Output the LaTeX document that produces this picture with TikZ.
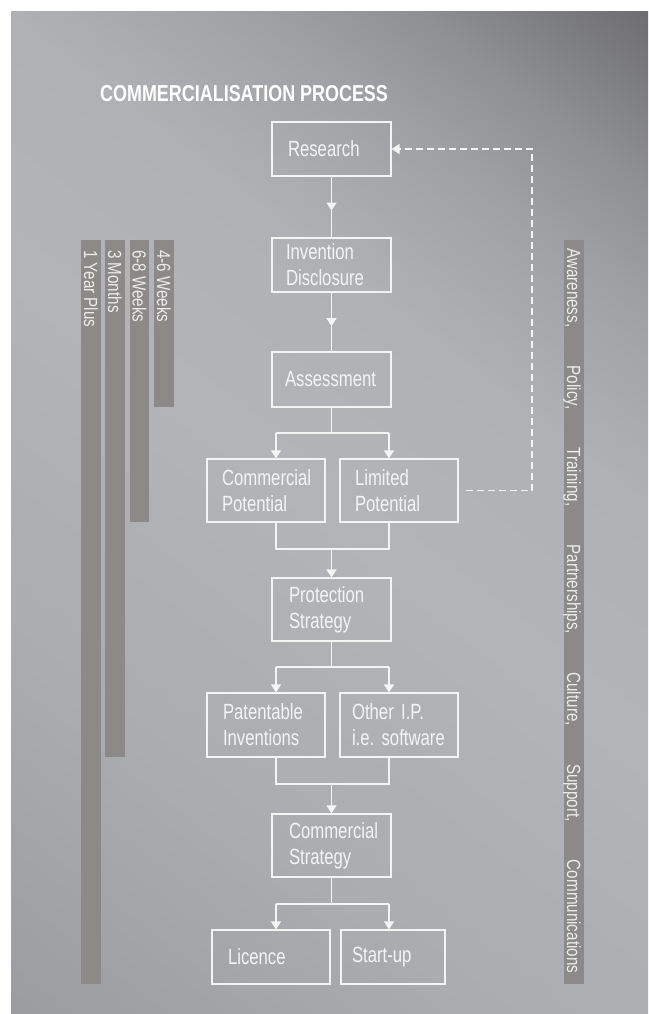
\documentclass[tikz,border=0pt]{standalone}
\usepackage{fontspec}
\setmainfont{Liberation Sans}
\newfontfamily\boxf[FakeStretch=0.76]{Liberation Sans}
\newfontfamily\barf[FakeStretch=0.8]{Liberation Sans}
\newfontfamily\titlef[FakeStretch=0.78]{Liberation Sans}
\usetikzlibrary{arrows.meta,calc}
\frenchspacing
\definecolor{g0}{HTML}{98999D}
\definecolor{g1}{HTML}{9B9CA0}
\definecolor{g2}{HTML}{ABACB0}
\definecolor{g3}{HTML}{B3B4B8}
\definecolor{g4}{HTML}{B0B1B5}
\definecolor{g5}{HTML}{A0A1A5}
\definecolor{g6}{HTML}{8F9094}
\definecolor{g7}{HTML}{6C6C70}
\definecolor{g8}{HTML}{5F5F63}
\definecolor{barc}{HTML}{8C8A88}
\definecolor{boxc}{HTML}{F4F4F4}
\definecolor{txtc}{HTML}{F4F4F4}
\definecolor{bartxt}{HTML}{EDEDED}
\pgfdeclarehorizontalshading{bgshade}{100bp}{color(0bp)=(g0); color(28.6bp)=(g1); color(39.3bp)=(g2); color(50bp)=(g3); color(57.1bp)=(g4); color(62.5bp)=(g5); color(66.1bp)=(g6); color(71.4bp)=(g7); color(100bp)=(g8)}
\tikzset{
  box/.style={draw=boxc, line width=1.2pt, text=txtc, font={\boxf\fontsize{22}{26}\selectfont}, align=left, inner ysep=0pt, inner xsep=15pt, text width=89pt, minimum height=54pt},
  tall/.style={minimum height=63pt},
  conn/.style={draw=boxc, line width=1.2pt},
  arr/.style={-{Triangle[width=10pt,length=8pt]}},
  dsh/.style={draw=boxc, line width=1.2pt, dash pattern=on 7pt off 4pt},
  bar/.style={fill=barc, draw=none},
  bartext/.style={rotate=-90, anchor=west, inner sep=0pt, text=bartxt, font={\barf\fontsize{19}{20}\selectfont}, text height=13.6pt, text depth=0pt}
}
\begin{document}
\begin{tikzpicture}[x=1pt,y=-1pt]
\useasboundingbox (0,0) rectangle (648,1014);
\fill[white] (0,0) rectangle (648,1014);
\begin{scope}
\clip (11,12) rectangle (648,1014);
\shade[shading=bgshade, shading angle=52.5] (-370.5,-187) rectangle (1029.5,1213);
\end{scope}
% title
\node[anchor=base west, inner sep=0pt, text=white, font={\titlef\bfseries\fontsize{23}{26}\selectfont}] (title) at (100,102) {COMMERCIALISATION PROCESS};
% time bars
\fill[bar] (81,240) rectangle (101,984);
\fill[bar] (105,240) rectangle (125,757);
\fill[bar] (130,240) rectangle (149,522);
\fill[bar] (154,240) rectangle (174,407);
\node[bartext] (t1) at (91,250) {1 Year Plus};
\node[bartext] (t2) at (115,250) {3 Months};
\node[bartext] (t3) at (139.5,250) {6-8 Weeks};
\node[bartext] (t4) at (164,250) {4-6 Weeks};
% right bar
\fill[bar] (564,240) rectangle (584,984);
\node[bartext] (tr) at (574,248) {\hbox to 725pt{Awareness,\hfill Policy,\hfill Training,\hfill Partnerships,\hfill Culture,\hfill Support,\hfill Communications}};
% boxes
\node[box, inner xsep=16pt, text width=87pt] (res) at (331.5,149) {Research};
\node[box, inner xsep=14pt, text width=91pt] (inv) at (331.5,265) {Invention\\Disclosure};
\node[box, inner xsep=13pt, text width=93pt, minimum height=55pt] (ass) at (331.5,379.5) {Assessment};
\node[box, tall, text width=88pt] (cp) at (266,490.5) {Commercial\\Potential};
\node[box, tall, text width=88pt] (lp) at (399,490.5) {Limited\\Potential};
\node[box, tall, inner xsep=17pt, text width=85pt] (prot) at (331.5,609.5) {Protection\\Strategy};
\node[box, tall, inner xsep=16pt, text width=86pt, minimum height=64pt] (pat) at (266,725) {Patentable\\Inventions};
\node[box, tall, inner xsep=12pt, text width=94pt, minimum height=64pt] (oth) at (399,725) {Other I.P.\\i.e. software};
\node[box, tall, inner xsep=17pt, text width=85pt] (cs) at (331.5,845.5) {Commercial\\Strategy};
\node[box, inner xsep=16pt, text width=86pt] (lic) at (271,957) {Licence};
\node[box, inner xsep=11pt, text width=82pt] (st) at (393,957) {Start-up};
% straight connectors with mid arrows
\draw[conn] (res.south) -- (inv.north);
\draw[conn, arr] (res.south) -- ($(res.south)!0.56!(inv.north)$);
\draw[conn] (inv.south) -- (ass.north);
\draw[conn, arr] (inv.south) -- ($(inv.south)!0.57!(ass.north)$);
% branch A
\coordinate (jA) at (331.5,433);
\coordinate (bAl) at (276,433);
\coordinate (bAr) at (389,433);
\draw[conn] (ass.south) -- (jA);
\draw[conn] (bAl) -- (bAr);
\draw[conn, arr] (bAl) -- (bAl |- cp.north);
\draw[conn, arr] (bAr) -- (bAr |- lp.north);
% merge A
\coordinate (mA) at (331.5,549);
\coordinate (mAl) at (276,549);
\coordinate (mAr) at (389,549);
\draw[conn] (mAl |- cp.south) -- (mAl) -- (mAr) -- (mAr |- lp.south);
\draw[conn, arr] (mA) -- (prot.north);
% branch B
\coordinate (jB) at (331.5,667);
\coordinate (bBl) at (276,667);
\coordinate (bBr) at (389,667);
\draw[conn] (prot.south) -- (jB);
\draw[conn] (bBl) -- (bBr);
\draw[conn, arr] (bBl) -- (bBl |- pat.north);
\draw[conn, arr] (bBr) -- (bBr |- oth.north);
% merge B
\coordinate (mB) at (331.5,784);
\coordinate (mBl) at (276,784);
\coordinate (mBr) at (389,784);
\draw[conn] (mBl |- pat.south) -- (mBl) -- (mBr) -- (mBr |- oth.south);
\draw[conn, arr] (mB) -- (cs.north);
% branch C
\coordinate (jC) at (331.5,904);
\coordinate (bCl) at (276,904);
\coordinate (bCr) at (389,904);
\draw[conn] (cs.south) -- (jC);
\draw[conn] (bCl) -- (bCr);
\draw[conn, arr] (bCl) -- (bCl |- lic.north);
\draw[conn, arr] (bCr) -- (bCr |- st.north);
% dashed feedback
\coordinate (dc) at (532,149);
\draw[dsh, arr] ([xshift=7pt]lp.east) -| (dc) -- (res.east);
\end{tikzpicture}
\end{document}
